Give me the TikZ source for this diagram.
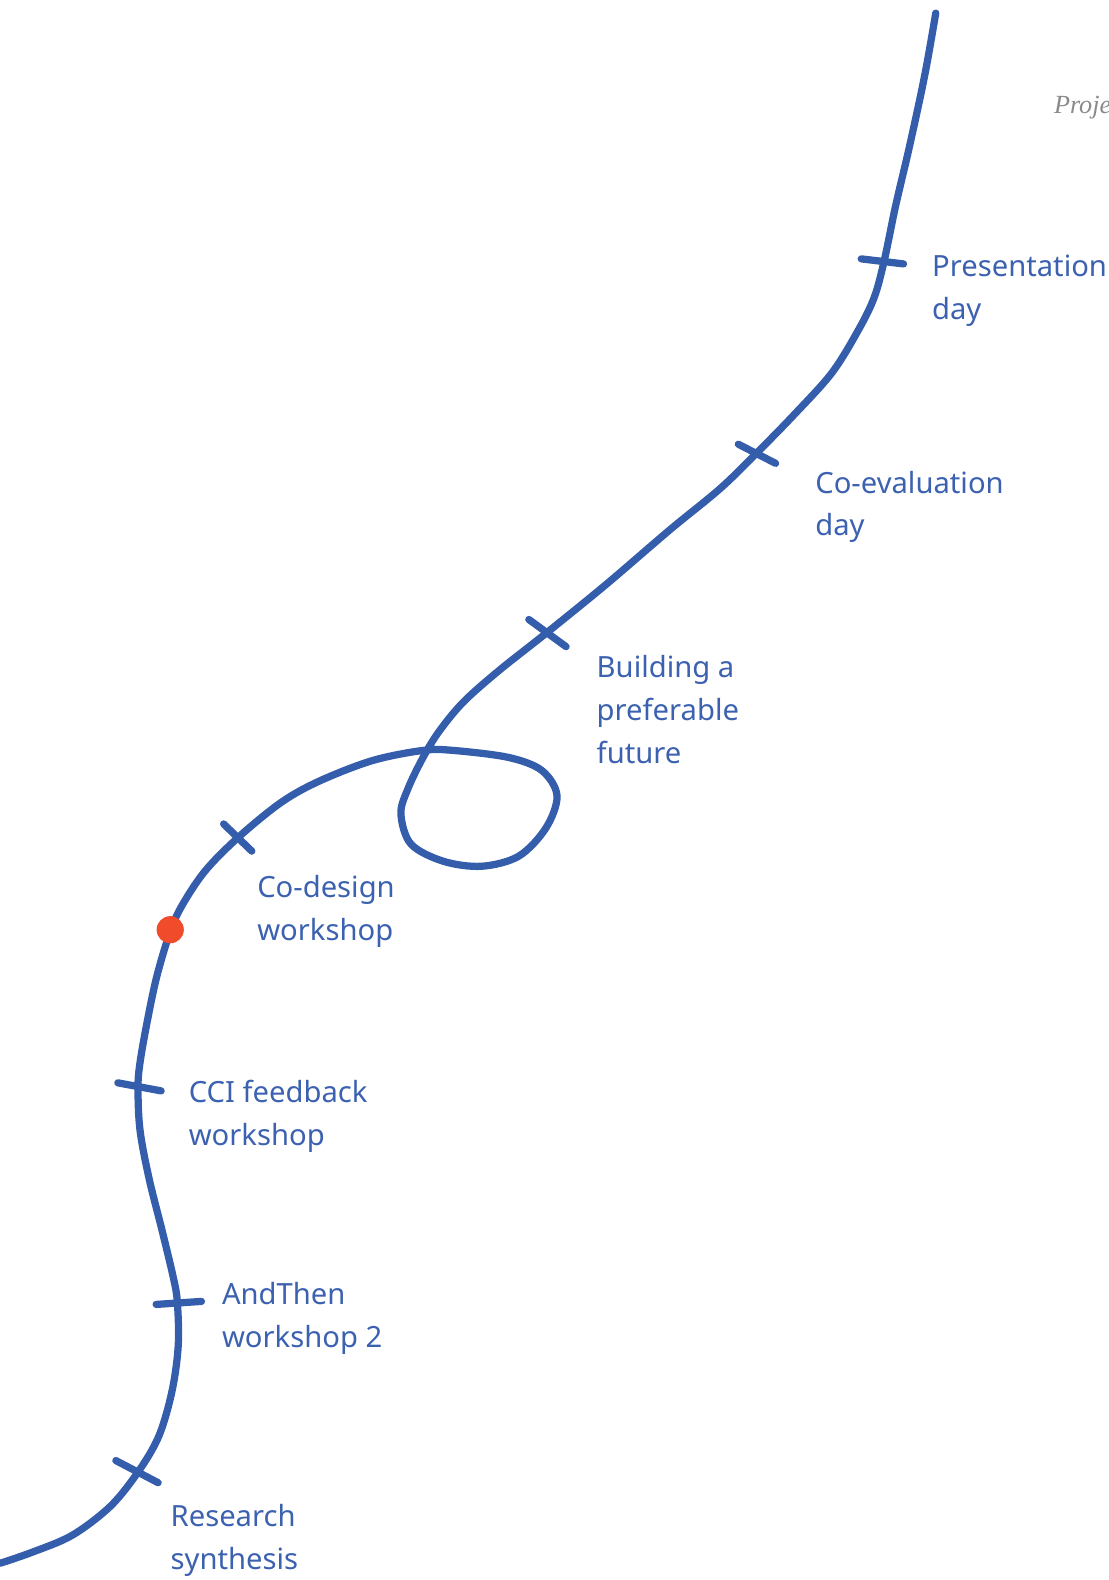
\documentclass[tikz,border=0pt]{standalone}
\usepackage{fontspec}
\setmainfont{Noto Sans}
\newfontfamily\notefont{Liberation Serif}
\definecolor{lineblue}{HTML}{345DAC}
\definecolor{textblue}{HTML}{3B61B0}
\definecolor{dotred}{HTML}{F04C2B}
\definecolor{notegrey}{HTML}{8A8A8A}
\tikzset{
  route/.style={draw=lineblue, line width=3.6pt, line cap=round, line join=round},
  tick/.style={draw=lineblue, line width=3.6pt, line cap=round},
  lbl/.style={anchor=north west, inner sep=0pt, text=textblue, font=\fontsize{14.5pt}{21.3pt}\selectfont, align=left},
}
\begin{document}
\begin{tikzpicture}[x=0.5pt, y=-0.5pt]
\useasboundingbox (0,0) rectangle (1101,1568.6);
\clip (0,0) rectangle (1101,1568.6);
% main route
\draw[route] plot[smooth, tension=0.55] coordinates {
 (929,13) (918,75) (903,145) (889,205) (878,258) (868,295) (852,328) (826,370)
 (790,410) (752,449) (715,485) (665,526) (602,580) (543,628) (495,666)
 (460,697) (436,726) (420,752) (405,783) (398,808) (408,838) (440,855)
 (478,860) (515,850) (542,822) (553,790) (538,765) (505,752) (450,745)
 (420,745) (370,755) (318,775) (280,796) (238,830) (205,863) (183,895)
 (170,922) (156,968) (146,1015) (139,1055) (137,1080) (139,1122) (148,1170)
 (161,1222) (172,1268) (176,1292) (177,1335) (171,1380) (158,1425)
 (138,1460) (110,1495) (72,1524) (32,1541) (0,1552)};
% ticks
\coordinate (t1a) at (855,257); \coordinate (t1b) at (897,262);
\coordinate (t2a) at (733,441); \coordinate (t2b) at (770,460);
\coordinate (t3a) at (525,615); \coordinate (t3b) at (562,642);
\coordinate (t4a) at (222,818); \coordinate (t4b) at (250,845);
\coordinate (t5a) at (117,1075); \coordinate (t5b) at (160,1083);
\coordinate (t6a) at (155,1295); \coordinate (t6b) at (200,1292);
\coordinate (t7a) at (115,1450); \coordinate (t7b) at (157,1472);
\draw[tick] (t1a) -- (t1b);
\draw[tick] (t2a) -- (t2b);
\draw[tick] (t3a) -- (t3b);
\draw[tick] (t4a) -- (t4b);
\draw[tick] (t5a) -- (t5b);
\draw[tick] (t6a) -- (t6b);
\draw[tick] (t7a) -- (t7b);
% red dot
\node[circle, fill=dotred, minimum size=13.5pt, inner sep=0pt] (dot) at (169,923) {};
% labels
\node[lbl] (l1) at (925,253) {Presentation\\day};
\node[lbl] (l2) at (809,467) {Co-evaluation\\day};
\node[lbl] (l3) at (592,650) {Building a\\preferable\\future};
\node[lbl] (l4) at (255,869) {Co-design\\workshop};
\node[lbl] (l5) at (187,1072) {CCI feedback\\workshop};
\node[lbl] (l6) at (220,1273) {AndThen\\workshop 2};
\node[lbl] (l7) at (169,1493) {Research\\synthesis};
% note at top right
\node[anchor=west, inner sep=0pt, text=notegrey, font=\notefont\itshape\fontsize{13pt}{15pt}\selectfont] (note) at (1046,107) {Proje};
\end{tikzpicture}
\end{document}
